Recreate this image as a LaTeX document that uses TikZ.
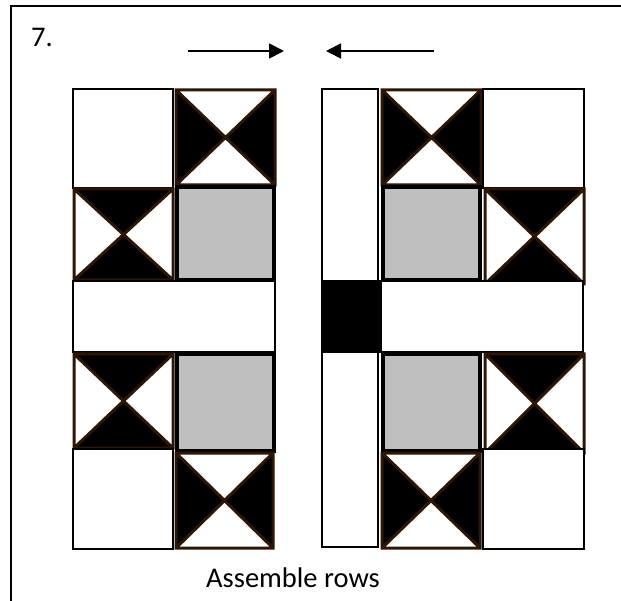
\documentclass[tikz,border=0pt]{standalone}
\usepackage{fontspec}
\setmainfont{Carlito}
\usetikzlibrary{arrows.meta}
\definecolor{hgbrown}{HTML}{2E1606}
\definecolor{qgray}{HTML}{BFBFBF}
\tikzset{
  frameline/.style={line width=2pt,black},
  plainsq/.style={draw=black,line width=1.5pt,fill=white},
  graysq/.style={draw=black,line width=3.5pt,fill=qgray},
  hgedge/.style={draw=hgbrown,line width=3pt},
  movearrow/.style={line width=1.8pt,-{Triangle[length=15pt,width=15pt]}},
  lbl/.style={inner sep=0pt,font=\fontsize{28.5}{30}\selectfont}
}
% hourglass with black left/right triangles
\newcommand\qhgLR[4]{%
  \fill[black] (#1,#2) -- ({(#1+#3)/2},{(#2+#4)/2}) -- (#1,#4) -- cycle;
  \fill[black] (#3,#2) -- ({(#1+#3)/2},{(#2+#4)/2}) -- (#3,#4) -- cycle;
  \draw[hgedge] (#1,#2) rectangle (#3,#4) (#1,#2) -- (#3,#4) (#3,#2) -- (#1,#4);}
% hourglass with black top/bottom triangles
\newcommand\qhgTB[4]{%
  \fill[black] (#1,#2) -- ({(#1+#3)/2},{(#2+#4)/2}) -- (#3,#2) -- cycle;
  \fill[black] (#1,#4) -- ({(#1+#3)/2},{(#2+#4)/2}) -- (#3,#4) -- cycle;
  \draw[hgedge] (#1,#2) rectangle (#3,#4) (#1,#2) -- (#3,#4) (#3,#2) -- (#1,#4);}
\begin{document}
\begin{tikzpicture}[x=1pt,y=-1pt]
\useasboundingbox (0,0) rectangle (621,601);
\fill[white] (0,0) rectangle (621,601);
% frame
\draw[frameline] (11,601) -- (11,6.5) -- (621,6.5);
\node[lbl,anchor=base west] (num) at (31,47) {7.};
% arrows
\coordinate (ra1) at (188,51);
\coordinate (ra2) at (284,51);
\coordinate (la1) at (434,51);
\coordinate (la2) at (326,51);
\draw[movearrow] (ra1) -- (ra2);
\draw[movearrow] (la1) -- (la2);
% ---------- left half ----------
\draw[plainsq] (73,89) rectangle (173,188);
\qhgLR{176}{90}{275}{185}
\qhgTB{74}{189}{173}{280}
\draw[graysq] (177,187) rectangle (274,280);
\draw[plainsq] (73,281) rectangle (275,352);
\qhgTB{74}{354}{173}{448}
\draw[graysq] (177,354) rectangle (274,451);
\draw[plainsq] (73,449) rectangle (173,549);
\qhgLR{176}{453}{273}{548}
% ---------- right half ----------
\draw[plainsq] (322,89) rectangle (378,547);
\fill[black] (321,280) rectangle (381,353);
\qhgLR{382}{90}{481}{185}
\draw[plainsq] (483,89) rectangle (584,188);
\draw[graysq] (383,187) rectangle (480,280);
\qhgTB{485}{189}{584}{284}
\draw[plainsq] (381,281) rectangle (583,352);
\draw[graysq] (383,354) rectangle (480,451);
\qhgTB{485}{354}{584}{453}
\qhgLR{382}{453}{480}{548}
\draw[plainsq] (483,449) rectangle (584,549);
% caption
\node[lbl,anchor=base] (cap) at (293,587) {Assemble rows};
\end{tikzpicture}
\end{document}
